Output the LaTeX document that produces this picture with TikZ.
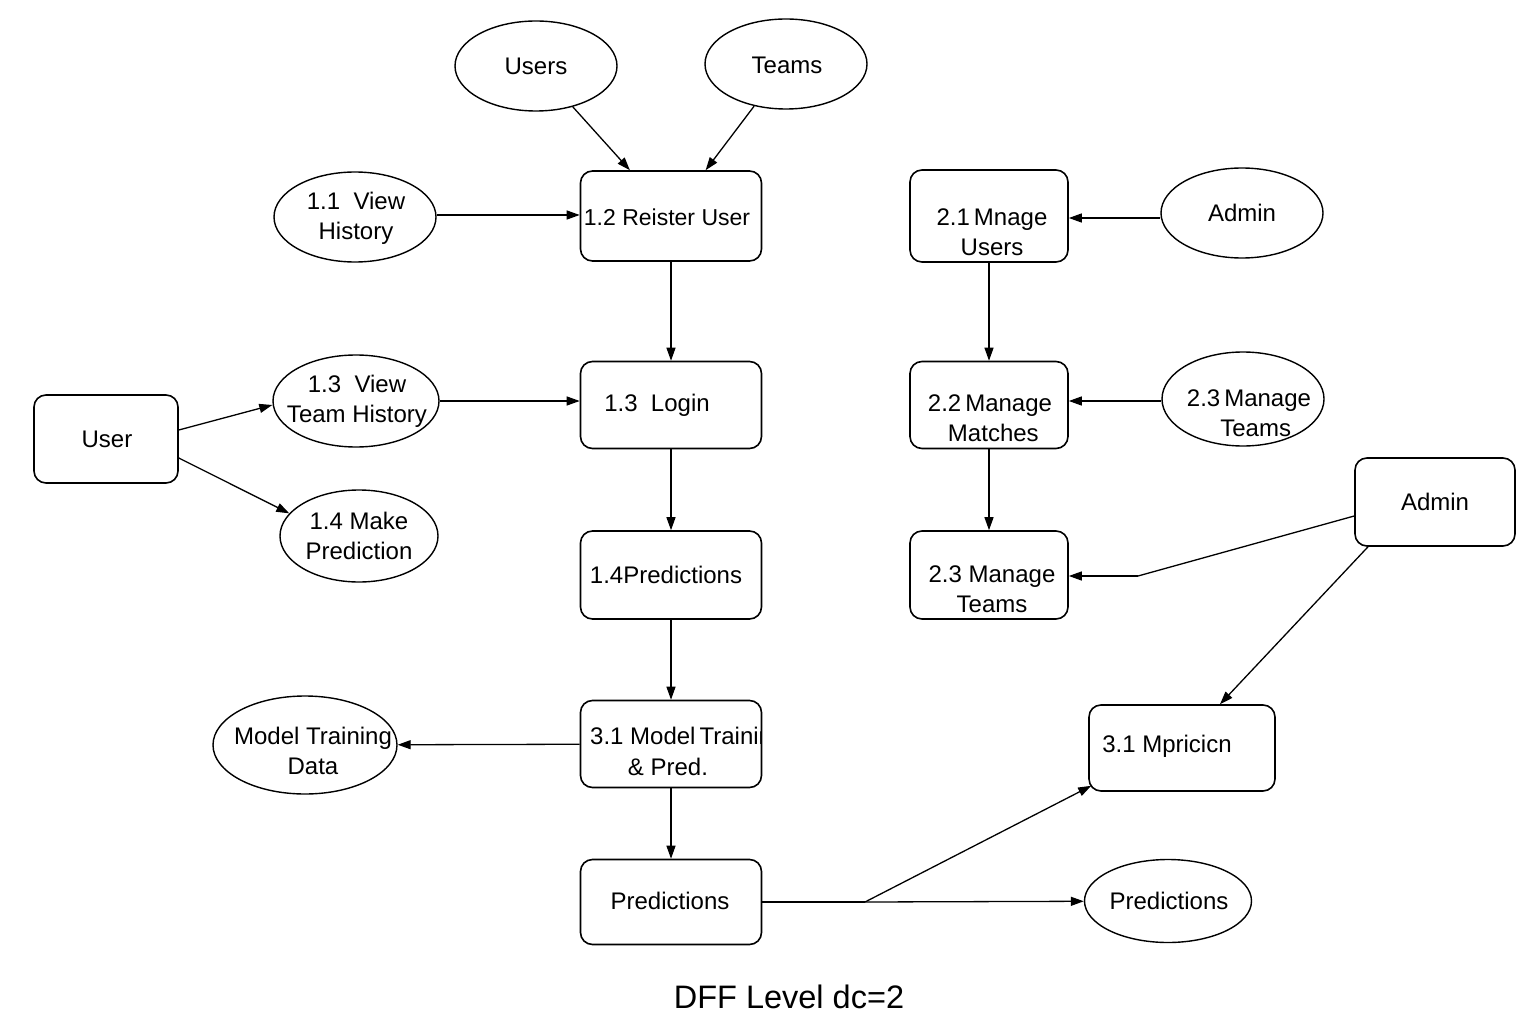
\documentclass[tikz,border=0pt]{standalone}
\usepackage{fontspec}
\setmainfont{Liberation Sans}
\usetikzlibrary{shapes.geometric,arrows.meta}
\begin{document}
\begin{tikzpicture}[x=1pt,y=-1pt,
  every node/.style={font=\fontsize{24}{30}\selectfont, align=center, inner sep=0pt},
  pbox/.style={draw, line width=1.6pt, rounded corners=12pt, minimum width=181pt, minimum height=90pt},
  ell/.style={draw, line width=1.4pt, ellipse, minimum width=162pt, minimum height=90pt},
  arr/.style={line width=1.3pt, -{Triangle[length=13pt,width=9pt]}},
  ln/.style={line width=1.3pt}]
\useasboundingbox (0,0) rectangle (1536,1024);

% ellipses
\node[ell] (users) at (536,66) {};
\node (tusers) at (536,66) {Users};
\node[ell] (teams) at (786,64) {};
\node (tteams) at (787,65) {Teams};
\node[ell] (v11) at (355,217) {};
\node (tv11) at (356,218) {1.1\ \ View\\History};
\node[ell] (admin1) at (1242,213) {};
\node (tadmin1) at (1242,213) {Admin};
\node[ell, minimum width=166pt, minimum height=92pt] (v13) at (356,401) {};
\node (tv13) at (357,401) {1.3\ \ View\\Team History};
\node[ell, minimum height=94pt] (e23) at (1243,399) {};
\node (te23) at (1249,413) {2.3\,Manage\\\ \ Teams};
\node[ell, minimum width=158pt, minimum height=92pt] (mk14) at (359,536) {};
\node (tmk14) at (359,536) {1.4 Make\\Prediction};
\node[ell, minimum width=184pt, minimum height=98pt] (mtd) at (305,745) {};
\node (tmtd) at (313,751) {Model Training\\Data};
\node[ell, minimum width=167pt, minimum height=83pt] (predE) at (1168,901) {};
\node (tpredE) at (1169,901) {Predictions};

% boxes
\node[pbox] (r12) at (671,216) {};
\node[font=\fontsize{23}{30}\selectfont] (tr12) at (667,217) {1.2 Reister User};
\node[pbox, minimum width=158pt, minimum height=92pt] (r21) at (989,216) {};
\node (tr21) at (992,232) {2.1\,Mnage\\Users};
\node[pbox, minimum width=144pt, minimum height=88pt] (user) at (106,439) {};
\node (tuser) at (107,439) {User};
\node[pbox, minimum height=87pt] (login) at (671,405) {};
\node (tlogin) at (657,405) {1.3\ \ Login};
\node[pbox, minimum width=158pt, minimum height=87pt] (r22) at (989,405) {};
\node (tr22) at (990,418) {2.2\,Manage\\\ Matches};
\node[pbox, minimum width=160pt, minimum height=88pt] (admin2) at (1435,502) {};
\node (tadmin2) at (1435,502) {Admin};
\node[pbox, minimum height=88pt] (p14) at (671,575) {};
\node (tp14) at (666,575) {1.4Predictions};
\node[pbox, minimum width=158pt, minimum height=88pt] (r23) at (989,575) {};
\node (tr23) at (992,589) {2.3 Manage\\Teams};
\node[pbox, minimum height=87pt] (m31) at (671,744) {};
\begin{scope}
  \clip (583,700) rectangle (761,790);
  \node[anchor=north west] (tm31) at (590,727) {3.1 Model\,Trainin};
\end{scope}
\node (tm31b) at (668,767) {\& Pred.};
\node[pbox, minimum width=186pt, minimum height=86pt] (mp31) at (1182,748) {};
\node (tmp31) at (1167,746) {3.1 Mpricicn};
\node[pbox, minimum height=85pt] (pred) at (671,902) {};
\node (tpred) at (670,901) {Predictions};

% title
\node[font=\fontsize{32.5}{36}\selectfont] (title) at (789,997) {DFF Level dc=2};

% connectors
\draw[arr] (users) -- (r12);
\draw[arr] (teams) -- (r12);
\draw[arr] (v11.east |- 0,215) -- (r12.west |- 0,215);
\draw[arr] (r12) -- (login);
\draw[arr] (admin1.west |- 0,218) -- (r21.east |- 0,218);
\draw[arr] (r21) -- (r22);
\draw[arr] ([yshift=9pt]user.east) -- ([yshift=-4pt]v13.west);
\draw[arr] ([yshift=-19pt]user.east) -- (mk14.162);
\draw[arr] (v13.east |- 0,401) -- (login.west |- 0,401);
\draw[arr] (e23.west |- 0,401) -- (r22.east |- 0,401);
\draw[arr] (r22) -- (r23);
\coordinate (bendA) at (1138,576);
\draw[ln] ([yshift=-14pt]admin2.west) -- (bendA);
\draw[arr] (bendA) -- (r23.east |- bendA);
\draw[arr] ([xshift=-67pt]admin2.south) -- ([xshift=38pt]mp31.north);
\draw[arr] (login) -- (p14);
\draw[arr] (p14) -- (m31);
\draw[arr] (m31) -- (mtd);
\draw[arr] (m31) -- (pred);
\coordinate (split) at (865,902);
\draw[ln] (pred) -- (split);
\draw[arr] (split) -- (predE);
\draw[arr] (split) -- ([shift={(3pt,6pt)}]mp31.south west);
\end{tikzpicture}
\end{document}
